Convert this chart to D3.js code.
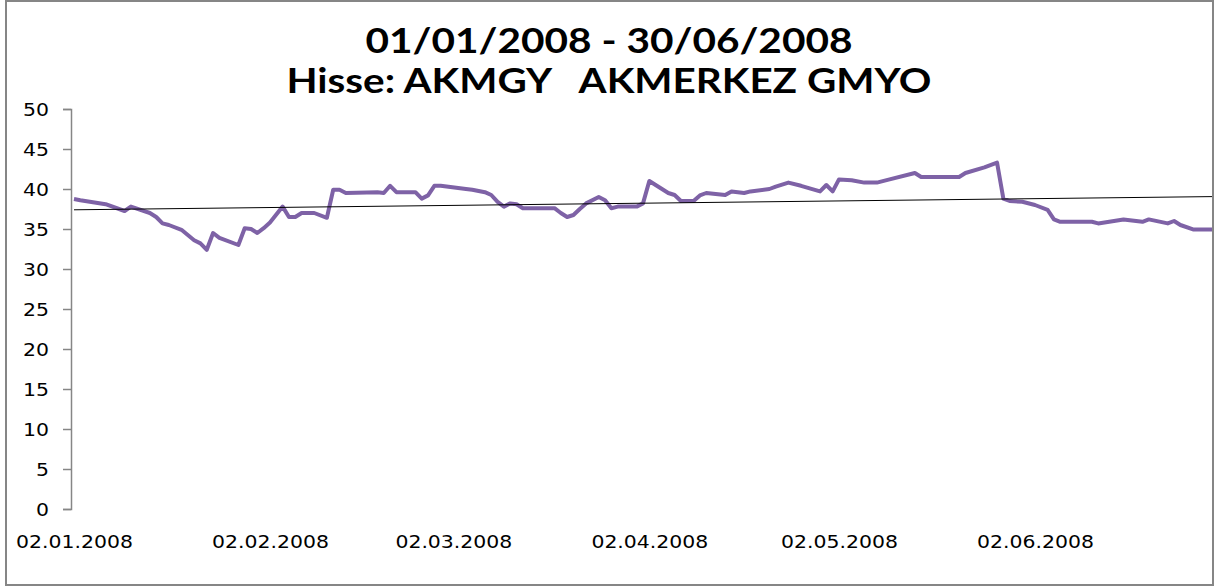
<!DOCTYPE html>
<html>
<head>
<meta charset="utf-8">
<script src="https://cdn.jsdelivr.net/npm/d3@7"></script>
<style>
  body { margin: 0; background: #fff; }
  #output { width: 1214px; height: 587px; }
  .title { font-family: Lato, "Open Sans", sans-serif; font-weight: bold; font-size: 35px; fill: #000; white-space: pre; }
  .tick text { font-family: "DejaVu Sans", sans-serif; font-size: 17px; fill: #000; }
</style>
</head>
<body>
<div id="output"></div>
<script>
// AKMGY closing prices
const dates = [
  '2008-01-02','2008-01-03','2008-01-07','2008-01-10','2008-01-11','2008-01-14','2008-01-15','2008-01-16',
  '2008-01-17','2008-01-19','2008-01-21','2008-01-22','2008-01-23','2008-01-24','2008-01-25','2008-01-28',
  '2008-01-29','2008-01-30','2008-01-31','2008-02-01','2008-02-02','2008-02-04','2008-02-05','2008-02-06',
  '2008-02-07','2008-02-09','2008-02-11','2008-02-12','2008-02-13','2008-02-14','2008-02-19','2008-02-20',
  '2008-02-21','2008-02-22','2008-02-25','2008-02-26','2008-02-27','2008-02-28','2008-02-29','2008-03-04',
  '2008-03-05','2008-03-07','2008-03-08','2008-03-09','2008-03-10','2008-03-11','2008-03-12','2008-03-13',
  '2008-03-18','2008-03-19','2008-03-20','2008-03-21','2008-03-22','2008-03-23','2008-03-25','2008-03-26',
  '2008-03-27','2008-03-28','2008-03-31','2008-04-01','2008-04-02','2008-04-05','2008-04-06','2008-04-07',
  '2008-04-09','2008-04-10','2008-04-11','2008-04-14','2008-04-15','2008-04-17','2008-04-18','2008-04-21',
  '2008-04-22','2008-04-24','2008-04-26','2008-04-29','2008-04-30','2008-05-01','2008-05-02','2008-05-04',
  '2008-05-06','2008-05-08','2008-05-10','2008-05-14','2008-05-15','2008-05-21','2008-05-22','2008-05-25',
  '2008-05-27','2008-05-28','2008-05-29','2008-05-31','2008-06-02','2008-06-04','2008-06-05','2008-06-06',
  '2008-06-11','2008-06-12','2008-06-16','2008-06-19','2008-06-20','2008-06-23','2008-06-24','2008-06-25',
  '2008-06-27','2008-06-30'
];
const prices = [
  38.75, 38.6, 38.1, 37.25, 37.8, 37.0, 36.5, 35.7,
  35.5, 34.9, 33.6, 33.2, 32.4, 34.5, 33.9, 33.0,
  35.1, 35.0, 34.5, 35.1, 35.8, 37.8, 36.5, 36.5,
  37.0, 37.0, 36.4, 39.9, 39.9, 39.5, 39.6, 39.5,
  40.4, 39.6, 39.6, 38.8, 39.2, 40.4, 40.4, 40.0,
  39.9, 39.6, 39.25, 38.4, 37.8, 38.2, 38.1, 37.6,
  37.6, 37.0, 36.5, 36.75, 37.5, 38.2, 39.0, 38.6,
  37.6, 37.8, 37.8, 38.2, 41.0, 39.5, 39.25, 38.5,
  38.5, 39.2, 39.5, 39.25, 39.7, 39.5, 39.7, 40.0,
  40.3, 40.8, 40.4, 39.7, 40.5, 39.7, 41.2, 41.1,
  40.8, 40.8, 41.2, 42.0, 41.5, 41.5, 42.0, 42.7,
  43.3, 38.8, 38.5, 38.4, 38.0, 37.4, 36.2, 35.9,
  35.9, 35.7, 36.2, 35.9, 36.2, 35.7, 36.0, 35.5,
  34.95, 34.95
];
// linear trend line end values
const trendDates = ['2008-01-02', '2008-06-30'];
const trendValues = [37.4, 39.05];

const xTickDates = ['2008-01-02','2008-02-02','2008-03-02','2008-04-02','2008-05-02','2008-06-02'];
const yTicks = [0, 5, 10, 15, 20, 25, 30, 35, 40, 45, 50];
const titleLines = ['01/01/2008 - 30/06/2008', 'Hisse: AKMGY   AKMERKEZ GMYO'];

const parse = d3.timeParse('%Y-%m-%d');
const fmt = d3.timeFormat('%d.%m.%Y');

const width = 1214, height = 587;
const svg = d3.select('#output').append('svg')
  .attr('width', width)
  .attr('height', height);

// chart frame
svg.append('rect')
  .attr('x', 6).attr('y', 1)
  .attr('width', 1207).attr('height', 584)
  .attr('fill', '#fff')
  .attr('stroke', '#868686')
  .attr('stroke-width', 2);

const x = d3.scaleTime()
  .domain([parse('2008-01-02'), parse('2008-06-30')])
  .range([74, 1212]);
const y = d3.scaleLinear().domain([0, 50]).range([509, 109]);

// title
svg.selectAll('.title')
  .data(titleLines)
  .join('text')
  .attr('class', 'title')
  .attr('x', 609)
  .attr('y', (d, i) => 53 + i * 40)
  .attr('text-anchor', 'middle')
  .attr('textLength', (d, i) => i === 0 ? 487 : 645)
  .attr('lengthAdjust', 'spacingAndGlyphs')
  .text(d => d);

// y axis
const yAxis = svg.append('g')
  .attr('transform', 'translate(71,0)')
  .call(d3.axisLeft(y).tickValues(yTicks).tickSize(8).tickPadding(14));
yAxis.select('.domain').attr('stroke', '#868686').attr('stroke-width', 1.5);
yAxis.selectAll('.tick line').attr('stroke', '#868686').attr('stroke-width', 1.5);
yAxis.selectAll('.tick text').attr('dy', '0.36em');

// x axis labels (no line)
const xAxis = svg.append('g')
  .attr('transform', 'translate(0,530)')
  .call(d3.axisBottom(x).tickValues(xTickDates.map(parse)).tickFormat(fmt).tickSize(0).tickPadding(0));
xAxis.select('.domain').remove();
xAxis.selectAll('.tick text').attr('dy', '0.71em').attr('y', 6);

// stretch axis label glyphs a bit wider, like the source rendering
svg.selectAll('.tick text').each(function () {
  const len = this.getComputedTextLength();
  d3.select(this).attr('textLength', len * 1.2).attr('lengthAdjust', 'spacingAndGlyphs');
});

// price line
const data = dates.map((d, i) => ({ date: parse(d), value: prices[i] }));
svg.append('path')
  .datum(data)
  .attr('fill', 'none')
  .attr('stroke', '#7E62A6')
  .attr('stroke-width', 4)
  .attr('stroke-linejoin', 'round')
  .attr('d', d3.line().x(d => x(d.date)).y(d => y(d.value)));

// trend line
const trend = trendDates.map((d, i) => ({ date: parse(d), value: trendValues[i] }));
svg.append('path')
  .datum(trend)
  .attr('fill', 'none')
  .attr('stroke', '#000')
  .attr('stroke-width', 1)
  .attr('d', d3.line().x(d => x(d.date)).y(d => y(d.value)));
</script>
</body>
</html>
